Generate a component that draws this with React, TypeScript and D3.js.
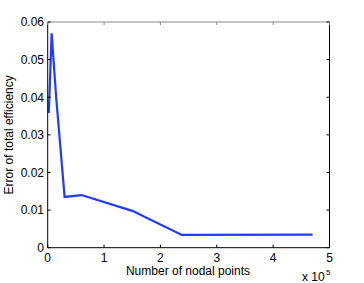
import React from "react";
import * as d3 from "d3";

const nodalPoints = [2000, 7000, 15000, 30000, 60000, 150000, 238000, 470000];
const errorValues = [0.0358, 0.057, 0.040, 0.0135, 0.014, 0.0098, 0.0034, 0.0035];
const xTicks = [0, 1, 2, 3, 4, 5];
const yTicks = [0, 0.01, 0.02, 0.03, 0.04, 0.05, 0.06];

export default function App() {
  const W = 364, H = 283;
  const left = 47.7, right = 329.5, top = 22, bottom = 247.7;
  const x = d3.scaleLinear().domain([0, 5e5]).range([left, right]);
  const y = d3.scaleLinear().domain([0, 0.06]).range([bottom, top]);
  const line = d3.line<number>().x((_, i) => x(nodalPoints[i])).y((d) => y(d));
  const font = "'Liberation Sans', Arial, sans-serif";
  return (
    <svg width={W} height={H} style={{ position: "absolute", left: 0, top: 0 }} fontFamily={font}>
      <rect width={W} height={H} fill="#fff" />
      <path d={line(errorValues) || ""} fill="none" stroke="#1f3cff" strokeWidth={2.2} strokeLinejoin="miter" />
      <line x1={left} x2={right} y1={top} y2={top} stroke="#888" strokeWidth={1} />
      <line x1={right} x2={right} y1={top} y2={bottom} stroke="#000" strokeWidth={1} />
      <line x1={left} x2={right} y1={bottom} y2={bottom} stroke="#000" strokeWidth={1} />
      <line x1={left} x2={left} y1={top} y2={bottom} stroke="#000" strokeWidth={1} />
      {xTicks.map((t) => (
        <g key={"x" + t}>
          <line x1={x(t * 1e5)} x2={x(t * 1e5)} y1={bottom} y2={bottom - 3} stroke="#000" />
          <line x1={x(t * 1e5)} x2={x(t * 1e5)} y1={top} y2={top + 3} stroke="#888" />
          <text x={x(t * 1e5)} y={261.5} fontSize={12} textAnchor="middle">{t}</text>
        </g>
      ))}
      {yTicks.map((t) => (
        <g key={"y" + t}>
          <line x1={left} x2={left + 3} y1={y(t)} y2={y(t)} stroke="#000" />
          <line x1={right} x2={right - 3} y1={y(t)} y2={y(t)} stroke="#000" />
          <text x={44} y={y(t) + 4.3} fontSize={12} textAnchor="end">{t === 0 ? "0" : t.toFixed(2)}</text>
        </g>
      ))}
      <text x={188} y={275} fontSize={12} textAnchor="middle">Number of nodal points</text>
      <text transform={`translate(13,${(top + bottom) / 2}) rotate(-90)`} fontSize={12} textAnchor="middle">Error of total efficiency</text>
      <text x={302} y={281} fontSize={12} textAnchor="start">x 10</text>
      <text x={326} y={275} fontSize={8} textAnchor="start">5</text>
    </svg>
  );
}
